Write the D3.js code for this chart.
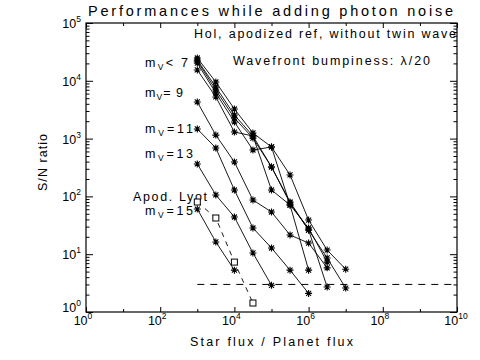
<!DOCTYPE html>
<html><head><meta charset="utf-8">
<script src="https://cdn.jsdelivr.net/npm/d3@7"></script>
<style>
html,body{margin:0;padding:0;background:#fff;}
svg{display:block;font-family:"Liberation Sans","DejaVu Sans",sans-serif;}
</style></head>
<body>
<svg id="c" width="480" height="360"></svg>
<script>
// ---- data ----
const starFlux = [1e3, 3.16e3, 1e4, 3.16e4, 1e5, 3.16e5, 1e6, 3.16e6, 1e7];
const snT1 = [24800, 9530, 3250, 1250, 716, 235, 39, 11.8, 5.5];
const snT2 = [22900, 7810, 2560, 1110, 323, 80, 26.2, 8.6, 2.6];
const snT3 = [22000, 6930, 2270, 1020, 323, 76.9, 26.2, 2.7];
const snT4 = [20300, 6150, 1940, 635, 716, 71, 28.4, 7.3];
const snT5 = [15400, 5250, 1300, 1110, 129, 71, 5.3];
const snMv9 = [4300, 1150, 394, 86.6, 53.7, 21.5, 15.6, 5.8];
const snMv11 = [1470, 688, 129, 28.4, 12.8, 5.3, 2.1];
const snMv13 = [364, 106, 44, 10.5, 2.9];
const snMv15 = [60.5, 16.3, 5.3];
const snLyot = [80, 42.3, 7.3, 1.43];
const thresholdSN = 3;
const thresholdFrom = 1e3;
const xTickExp = [0, 2, 4, 6, 8, 10];
const xMinorExp = [1, 3, 5, 7, 9];
const yTickExp = [0, 1, 2, 3, 4, 5];
const curveLabels = [
  {pre:"m", sub:"V", post:"< 7", x:145, y:67, w:43},
  {pre:"m", sub:"V", post:"= 9", x:145, y:97, w:38},
  {pre:"m", sub:"V", post:"=11", x:145, y:133, w:48},
  {pre:"m", sub:"V", post:"=13", x:145, y:158, w:48},
  {pre:"Apod. Lyot", sub:"", post:"", x:133, y:201, w:74},
  {pre:"m", sub:"V", post:"=15", x:145, y:215, w:48}
];
const titleText = "Performances while adding photon noise";
const note1 = "Hol, apodized ref, without twin wave";
const note2 = "Wavefront bumpiness: \u03BB/20";
const xTitle = "Star flux / Planet flux";
const yTitle = "S/N ratio";

// ---- layout ----
const L = 86, R = 457, T = 23, B = 312;
const svg = d3.select("#c");
const x = d3.scaleLog().domain([1, 1e10]).range([L, R]);
const y = d3.scaleLog().domain([1, 1e5]).range([B, T]);

// minor y ticks
const yMinor = [];
for (let d = 0; d < 5; d++) for (let k = 2; k <= 9; k++) yMinor.push(k * Math.pow(10, d));
const xMajorVals = xTickExp.map(e => Math.pow(10, e));
const xMinorVals = xMinorExp.map(e => Math.pow(10, e));
const yMajorVals = yTickExp.map(e => Math.pow(10, e));

function styleAxis(g){
  g.select(".domain").remove();
  g.selectAll("line").attr("stroke","#000").attr("stroke-width",1);
  g.selectAll("text").remove();
}
svg.append("g").attr("transform",`translate(0,${B})`).call(d3.axisBottom(x).tickValues(xMajorVals).tickSize(-5).tickSizeOuter(0)).call(styleAxis);
svg.append("g").attr("transform",`translate(0,${B})`).call(d3.axisBottom(x).tickValues(xMinorVals).tickSize(-3).tickSizeOuter(0)).call(styleAxis);
svg.append("g").attr("transform",`translate(0,${T})`).call(d3.axisTop(x).tickValues(xMajorVals).tickSize(-5).tickSizeOuter(0)).call(styleAxis);
svg.append("g").attr("transform",`translate(0,${T})`).call(d3.axisTop(x).tickValues(xMinorVals).tickSize(-3).tickSizeOuter(0)).call(styleAxis);
svg.append("g").attr("transform",`translate(${L},0)`).call(d3.axisLeft(y).tickValues(yMajorVals).tickSize(-7).tickSizeOuter(0)).call(styleAxis);
svg.append("g").attr("transform",`translate(${L},0)`).call(d3.axisLeft(y).tickValues(yMinor).tickSize(-3.5).tickSizeOuter(0)).call(styleAxis);
svg.append("g").attr("transform",`translate(${R},0)`).call(d3.axisRight(y).tickValues(yMajorVals).tickSize(-7).tickSizeOuter(0)).call(styleAxis);
svg.append("g").attr("transform",`translate(${R},0)`).call(d3.axisRight(y).tickValues(yMinor).tickSize(-3.5).tickSizeOuter(0)).call(styleAxis);

svg.append("rect").attr("x",L).attr("y",T).attr("width",R-L).attr("height",B-T)
  .attr("fill","none").attr("stroke","#000").attr("stroke-width",1.2);

// tick labels
const xl = svg.append("g").attr("font-size",12.5).attr("fill","#000");
xTickExp.forEach(e => {
  const t = xl.append("text").attr("x", x(Math.pow(10,e)) - (e>=10?1:3)).attr("y", 325).attr("text-anchor","middle");
  t.append("tspan").text("10");
  t.append("tspan").attr("dy",-6).attr("font-size",8.5).text(e);
});
const yl = svg.append("g").attr("font-size",12.5).attr("fill","#000");
yTickExp.forEach((e,i) => {
  const t = yl.append("text").attr("x", 81).attr("y", y(Math.pow(10,e)) + (i===0?0:5)).attr("text-anchor","end");
  t.append("tspan").text("10");
  t.append("tspan").attr("dy",-6).attr("font-size",8.5).text(e);
});

// titles
svg.append("text").attr("x",88).attr("y",16).attr("font-size",14.5)
  .attr("textLength",365).attr("lengthAdjust","spacing").text(titleText);
svg.append("text").attr("x",194).attr("y",38).attr("font-size",12.5)
  .attr("textLength",262).attr("lengthAdjust","spacing").text(note1);
svg.append("text").attr("x",233).attr("y",65).attr("font-size",12.5)
  .attr("textLength",197).attr("lengthAdjust","spacing").text(note2);
svg.append("text").attr("x",190).attr("y",346).attr("font-size",12.5)
  .attr("textLength",163).attr("lengthAdjust","spacing").text(xTitle);
svg.append("text").attr("transform","translate(47,191) rotate(-90)").attr("font-size",12.5)
  .attr("textLength",57).attr("lengthAdjust","spacing").text(yTitle);

// curve labels
curveLabels.forEach(c => {
  const t = svg.append("text").attr("x",c.x).attr("y",c.y).attr("font-size",12.5)
    .attr("textLength",c.w).attr("lengthAdjust","spacing");
  t.append("tspan").text(c.pre);
  if (c.sub) {
    t.append("tspan").attr("dy",3).attr("font-size",8.5).text(c.sub);
    t.append("tspan").attr("dy",-3).text(c.post);
  }
});

// threshold dashed line
svg.append("line").attr("x1",x(thresholdFrom)).attr("x2",R)
  .attr("y1",y(thresholdSN)).attr("y2",y(thresholdSN))
  .attr("stroke","#000").attr("stroke-width",1).attr("stroke-dasharray","7,6");

// series
const series = [snT1, snT2, snT3, snT4, snT5, snMv9, snMv11, snMv13, snMv15];
const line = d3.line().x((d,i)=>x(starFlux[i])).y(d=>y(d));
const star = "M-3.5,0H3.5M0,-3.5V3.5M-2.5,-2.5L2.5,2.5M-2.5,2.5L2.5,-2.5";
series.forEach(s => {
  svg.append("path").attr("d", line(s)).attr("fill","none").attr("stroke","#000").attr("stroke-width",0.9);
  svg.append("g").selectAll("path").data(s).join("path")
    .attr("transform",(d,i)=>`translate(${x(starFlux[i])},${y(d)})`)
    .attr("d",star).attr("stroke","#000").attr("stroke-width",1.1).attr("fill","none");
});
// Lyot
svg.append("path").attr("d", line(snLyot)).attr("fill","none").attr("stroke","#000")
  .attr("stroke-width",0.9).attr("stroke-dasharray","5,5");
svg.append("g").selectAll("rect").data(snLyot).join("rect")
  .attr("x",(d,i)=>x(starFlux[i])-3).attr("y",d=>y(d)-3).attr("width",6).attr("height",6)
  .attr("fill","#fff").attr("stroke","#000").attr("stroke-width",1);
</script>
</body></html>
